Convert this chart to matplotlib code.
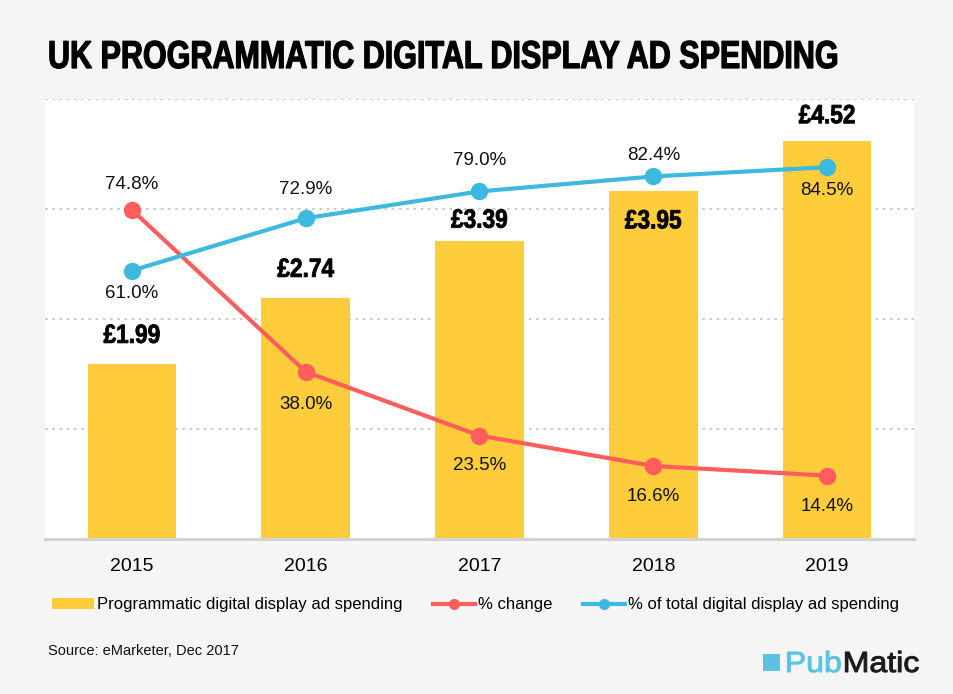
import matplotlib
matplotlib.use("Agg")
import matplotlib.pyplot as plt
from matplotlib.patheffects import AbstractPathEffect
from matplotlib.transforms import Affine2D
from matplotlib.patches import Patch, Rectangle
from matplotlib.lines import Line2D

plt.rcParams['font.family'] = ['Liberation Sans', 'DejaVu Sans']

# ---- data ----
years = ['2015', '2016', '2017', '2018', '2019']
spending = [1.99, 2.74, 3.39, 3.95, 4.52]          # £ billions
spending_labels = ['£1.99', '£2.74', '£3.39', '£3.95', '£4.52']
pct_change = [74.8, 38.0, 23.5, 16.6, 14.4]
pct_total = [61.0, 72.9, 79.0, 82.4, 84.5]

# ---- label offsets (pixels) ----
bar_label_dy = [28, 28, 20, -30, 25]
change_label_dy = [25, -33, -30, -31, -31]
total_label_dy = [-23, 29, 31, 21, -23]

YELLOW = '#FFCD3B'
RED = '#FD5D5D'
BLUE = '#3DB9DF'
BG = '#F5F5F5'


class Squeeze(AbstractPathEffect):
    """Scale glyph outlines horizontally (sx) and vertically (sy)."""
    def __init__(self, sx=1.0, sy=1.0, anchor='left', stroke=0.0):
        super().__init__()
        self.sx = sx
        self.sy = sy
        self.anchor = anchor
        self.stroke = stroke

    def draw_path(self, renderer, gc, tpath, affine, rgbFace=None):
        ext = tpath.get_extents(affine)
        if self.anchor == 'left':
            x0 = ext.x0
        else:
            x0 = 0.5 * (ext.x0 + ext.x1)
        y0 = affine.transform((0, 0))[1]
        t = affine + Affine2D().translate(-x0, -y0).scale(self.sx, self.sy).translate(x0, y0)
        gc0 = renderer.new_gc()
        gc0.copy_properties(gc)
        if self.stroke > 0 and rgbFace is not None:
            gc0.set_linewidth(self.stroke)
            gc0.set_foreground(rgbFace)
            gc0.set_joinstyle('miter')
        renderer.draw_path(gc0, tpath, t, rgbFace)
        gc0.restore()


W, H = 954, 694
fig = plt.figure(figsize=(W / 100, H / 100), dpi=100, facecolor=BG)
ax = fig.add_axes([45 / W, 1 - 539 / H, 869 / W, 440 / H])
ax.set_facecolor('white')
ax2 = ax.twinx()

x = list(range(len(years)))
ax.bar(x, spending, width=0.51, color=YELLOW, zorder=2)
ax.set_xlim(-0.5, 4.5)
ax.set_ylim(0, 5)
ax.set_yticks([1.25, 2.5, 3.75, 5])
ax.yaxis.grid(True, linestyle=(0, (1.5, 2.5)), color='#C8C8C8', linewidth=1.3, zorder=0)
ax.set_axisbelow(True)
ax.set_yticklabels([])
ax.tick_params(axis='y', length=0)
ax.set_xticks(x)
ax.set_xticklabels(years, fontsize=14)
ax.tick_params(axis='x', length=0, pad=14)
for s in ['top', 'left', 'right']:
    ax.spines[s].set_visible(False)
ax.spines['bottom'].set_color('#D3D3D3')
ax.spines['bottom'].set_linewidth(2.2)

ax2.set_ylim(0, 100)
ax2.set_yticks([])
for s in ['top', 'left', 'right', 'bottom']:
    ax2.spines[s].set_visible(False)
ax2.plot(x, pct_change, color=RED, linewidth=3, marker='o', markersize=11.5, zorder=4)
ax2.plot(x, pct_total, color=BLUE, linewidth=3, marker='o', markersize=11.5, zorder=4)

fig.canvas.draw()
renderer = fig.canvas.get_renderer()

# bar value labels
for xi, v, lab, dy in zip(x, spending, spending_labels, bar_label_dy):
    ax2.annotate(lab, xy=(xi, v / 5 * 100), xytext=(0, dy), textcoords='offset pixels',
                 ha='center', va='center', fontsize=19, fontweight='bold', color='black',
                 path_effects=[Squeeze(0.86, 1.0, 'center', stroke=0.6)], zorder=5)

for xi, v, dy in zip(x, pct_change, change_label_dy):
    ax2.annotate(f'{v:.1f}%', xy=(xi, v), xytext=(0, dy), textcoords='offset pixels',
                 ha='center', va='center', fontsize=13.5, color='#111111', zorder=5)
for xi, v, dy in zip(x, pct_total, total_label_dy):
    ax2.annotate(f'{v:.1f}%', xy=(xi, v), xytext=(0, dy), textcoords='offset pixels',
                 ha='center', va='center', fontsize=13.5, color='#111111', zorder=5)

# title: natural width fitted to 790 px, then stretched vertically to the cap height
title = fig.text(48 / W, 1 - 68 / H, 'UK PROGRAMMATIC DIGITAL DISPLAY AD SPENDING',
                 fontsize=28, fontweight='bold', color='black', ha='left', va='baseline')
tw = title.get_window_extent(renderer).width
k = 790 / tw
title.set_fontsize(28 * k)
title.set_path_effects([Squeeze(1.0, 1.0 / k, 'left', stroke=0.9)])

# legend
handles = [
    Patch(facecolor=YELLOW, edgecolor='none'),
    Line2D([0], [0], color=RED, linewidth=3, marker='o', markersize=7),
    Line2D([0], [0], color=BLUE, linewidth=3, marker='o', markersize=7),
]
labels = ['Programmatic digital display ad spending', '% change',
          '% of total digital display ad spending']
leg = fig.legend(handles, labels, loc='center left', bbox_to_anchor=(37 / W, 1 - 605 / H),
                 ncol=3, frameon=False, fontsize=12, handlelength=2.5,
                 handletextpad=0.18, columnspacing=1.85, handleheight=0.6)

# source
fig.text(48 / W, 1 - 651 / H, 'Source: eMarketer, Dec 2017', fontsize=10.5,
         color='#111111', ha='left', va='center')

# logo
fig.patches.append(Rectangle((763 / W, 1 - 671 / H), 17 / W, 17 / H,
                             transform=fig.transFigure, facecolor='#5BC2E0',
                             edgecolor='none'))
sx_logo = 1.1
pub = fig.text(785 / W, 1 - 672 / H, 'Pub', fontsize=21, color='#5BC2E0',
               ha='left', va='baseline')
pw = pub.get_window_extent(renderer).width
mat = fig.text((785 + pw * sx_logo + 1) / W, 1 - 672 / H, 'Matic', fontsize=21,
               color='#1A1A1A', ha='left', va='baseline')
pub.set_path_effects([Squeeze(sx_logo, 1.0, 'left', stroke=0.7)])
mat.set_path_effects([Squeeze(sx_logo, 1.0, 'left', stroke=0.7)])

fig.savefig('out.png', dpi=100, facecolor=BG)
